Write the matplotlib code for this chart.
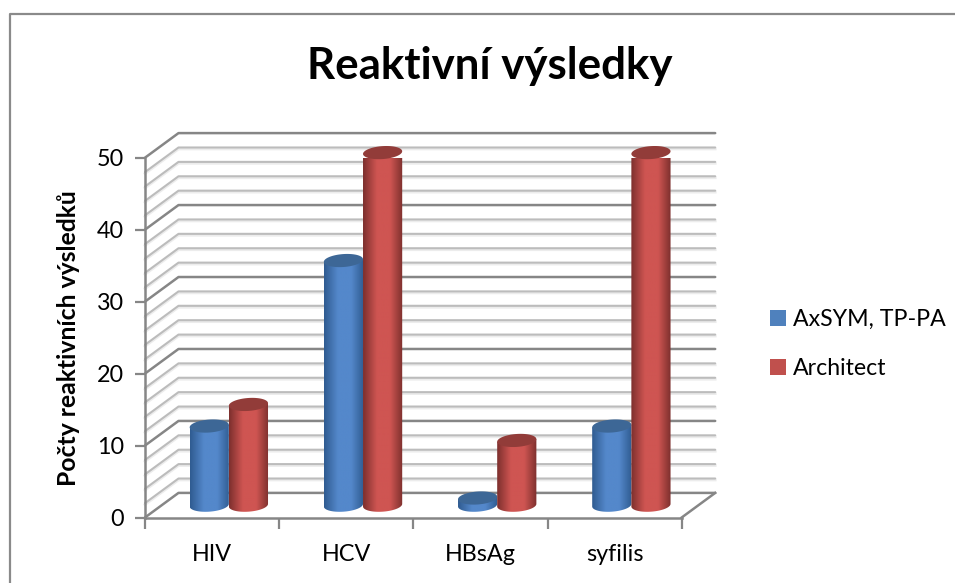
import matplotlib
matplotlib.use("Agg")
import matplotlib.pyplot as plt
import numpy as np
from matplotlib.colors import LinearSegmentedColormap
from matplotlib.lines import Line2D
from matplotlib.patches import Patch, Polygon

categories = ["HIV", "HCV", "HBsAg", "syfilis"]
axsym = [11, 34, 1, 11]
architect = [14, 49, 9, 49]
y_major = [0, 10, 20, 30, 40, 50]
y_minor = [2, 4, 6, 8, 12, 14, 16, 18, 22, 24, 26, 28, 32, 34, 36, 38, 42, 44, 46, 48]

plt.rcParams["font.family"] = ["Lato", "DejaVu Sans"]

W, H = 955, 583
fig = plt.figure(figsize=(W / 100, H / 100), dpi=100)

# front plane of the fake 3d box, in pixels
left, right, bottom, top = 145, 681.7, 517.5, 157.7
ax = fig.add_axes([left / W, 1 - bottom / H, (right - left) / W, (bottom - top) / H])
ax.patch.set_visible(False)

# depth of the box in data units
dx = 33.5 / ((right - left) / 4)
dy = 24.6 / ((bottom - top) / 50)

GREY = "#868686"
LIGHT = "#bcbcbc"
TILT = 0.18


def wall_line(v, color, lw):
    ax.plot([0, dx, 4 + dx], [v, v + dy, v + dy], color=color, lw=lw,
            clip_on=False, zorder=1, solid_capstyle="round")


for v in y_minor:
    ax.plot([0, dx, 4 + dx], [v - 0.2, v + dy - 0.2, v + dy - 0.2], color="#ececec",
            lw=2, clip_on=False, zorder=0.5)
    wall_line(v, LIGHT, 1.5)
for v in y_major:
    wall_line(v, GREY, 1.8)

# floor, right edge
ax.plot([4, 4 + dx], [0, dy], color=GREY, lw=1.8, clip_on=False, zorder=1)


def ellipse(xc, yc, a=0.146, b=0.9, n=80):
    t = np.linspace(0, 2 * np.pi, n)
    return np.column_stack([xc + a * np.cos(t), yc + b * np.sin(t) + TILT * np.cos(t)])


def cylinder(xc, value, edge, mid, cap, z):
    y0 = dy / 2
    y1 = y0 + value
    a = 0.146
    low = ellipse(xc, y0)[40:]  # lower half of the base
    outline = np.vstack([low, [[xc + a, y1 + TILT]], [[xc - a, y1 - TILT]]])
    cmap = LinearSegmentedColormap.from_list("c", [(0, edge), (0.35, mid), (0.68, mid), (1, edge)], N=256)
    grad = np.linspace(0, 1, 256).reshape(1, -1)
    im = ax.imshow(grad, cmap=cmap, aspect="auto", extent=[xc - a, xc + a, y0 - 1.5, y1 + 1.5],
                   zorder=z, interpolation="bilinear")
    im.set_clip_path(Polygon(outline, closed=True, transform=ax.transData))
    ax.add_patch(Polygon(ellipse(xc, y1), closed=True, facecolor=cap, edgecolor="none",
                         zorder=z + 0.1, clip_on=False))


offset = dx / 2
w = 0.146
for i, (a_val, b_val) in enumerate(zip(axsym, architect)):
    xc = i + 0.5 + offset
    cylinder(xc - w, a_val, "#2f5b90", "#5488cb", "#3d6796", 3 + i)
    cylinder(xc + w, b_val, "#7c2f2d", "#cf5552", "#923c39", 3.5 + i)

ax.set_xlim(0, 4)
ax.set_ylim(0, 50)

for side in ("top", "right"):
    ax.spines[side].set_visible(False)
for side in ("left", "bottom"):
    ax.spines[side].set_color(GREY)
    ax.spines[side].set_linewidth(1.8)

ax.set_yticks(y_major)
ax.tick_params(axis="y", length=7, width=1.6, color=GREY, labelsize=16.8, pad=8, labelcolor="black")
ax.set_xticks([0, 1, 2, 3, 4])
ax.set_xticklabels([])
ax.set_xticks([i + 0.5 for i in range(4)], minor=True)
ax.set_xticklabels(categories, minor=True)
ax.tick_params(axis="x", which="major", length=8, width=1.6, color=GREY)
ax.tick_params(axis="x", which="minor", length=0, labelsize=16.8, pad=19)

fig.text(68 / W, 1 - 338 / H, "Počty reaktivních výsledků", rotation=90, ha="center", va="center",
         fontsize=17.8, fontweight="bold")
fig.text(489.5 / W, 1 - 66 / H, "Reaktivní výsledky", ha="center", va="center",
         fontsize=31.6, fontweight="bold")

handles = [Patch(facecolor="#4f81bd"), Patch(facecolor="#c0504d")]
fig.legend(handles, ["AxSYM, TP-PA", "Architect"], loc="upper left",
           bbox_to_anchor=(749 / W, 1 - 288 / H), frameon=False, fontsize=16.7,
           handlelength=0.68, handleheight=0.68, handletextpad=0.3, labelspacing=1.2)

# chart frame, cropped at the right and bottom of the picture
fig.add_artist(Line2D([9.5 / W, 9.5 / W, 1], [0, 1 - 14 / H, 1 - 14 / H],
                      transform=fig.transFigure, color="#8a8a8a", lw=1.6))

fig.savefig("out.png", dpi=100)
